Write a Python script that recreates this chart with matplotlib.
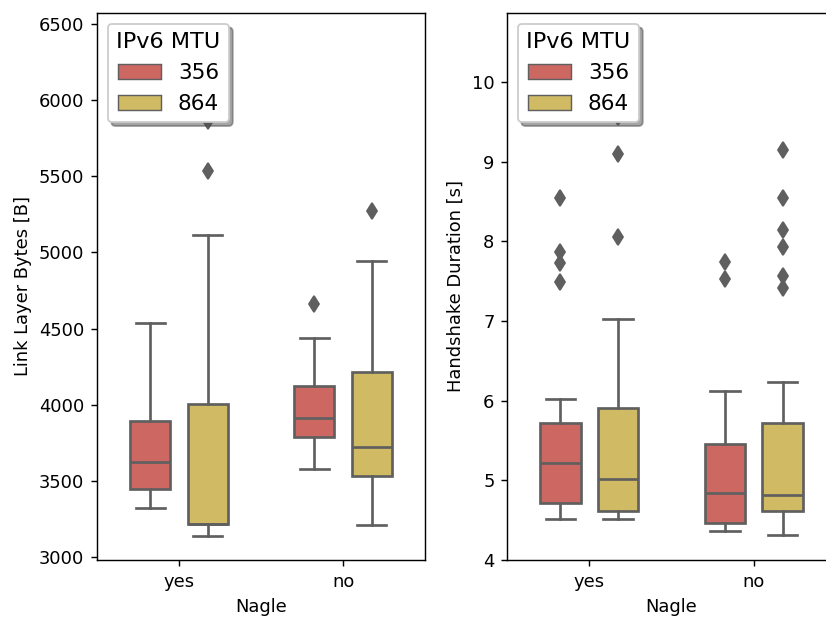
import matplotlib
matplotlib.use("Agg")
import matplotlib.pyplot as plt
from matplotlib.patches import Patch

# categories / hues
nagle = ["yes", "no"]
mtu = ["356", "864"]
colors = ["#cd6762", "#d0bb64"]
line_col = "#5f5f5f"

# Link layer bytes: per (nagle, mtu) -> whislo, q1, med, q3, whishi
bytes_whislo = [[3320, 3140], [3580, 3212]]
bytes_q1 = [[3447, 3215], [3790, 3534]]
bytes_med = [[3624, 3215], [3915, 3724]]
bytes_q3 = [[3895, 4003], [4125, 4217]]
bytes_whishi = [[4535, 5117], [4440, 4944]]
bytes_fliers = [[[], [5535, 5865]], [[4661], [5274]]]

# Handshake duration [s]
dur_whislo = [[4.51, 4.51], [4.37, 4.31]]
dur_q1 = [[4.71, 4.62], [4.47, 4.61]]
dur_med = [[5.22, 5.02], [4.84, 4.81]]
dur_q3 = [[5.72, 5.91], [5.46, 5.72]]
dur_whishi = [[6.02, 7.03], [6.12, 6.23]]
dur_fliers = [[[8.54, 7.86, 7.73, 7.49], [9.56, 9.10, 8.05]],
              [[7.74, 7.53], [9.15, 8.55, 8.14, 7.93, 7.56, 7.42]]]


def draw(ax, whislo, q1, med, q3, whishi, fliers, ylabel, ylim):
    offsets = [-0.175, 0.175]
    for i in range(len(nagle)):
        for j in range(len(mtu)):
            stats = [{
                "whislo": whislo[i][j], "q1": q1[i][j], "med": med[i][j],
                "q3": q3[i][j], "whishi": whishi[i][j], "fliers": fliers[i][j],
            }]
            ax.bxp(stats, positions=[i + offsets[j]], widths=0.245,
                   capwidths=0.18, patch_artist=True, manage_ticks=False,
                   boxprops=dict(facecolor=colors[j], edgecolor=line_col, linewidth=1.5),
                   medianprops=dict(color=line_col, linewidth=1.5),
                   whiskerprops=dict(color=line_col, linewidth=1.5),
                   capprops=dict(color=line_col, linewidth=1.5),
                   flierprops=dict(marker="d", markerfacecolor=line_col,
                                   markeredgecolor=line_col, markersize=6))
    ax.set_xlim(-0.5, 1.5)
    ax.set_xticks(range(len(nagle)))
    ax.set_xticklabels(nagle)
    ax.set_xlabel("Nagle")
    ax.set_ylabel(ylabel)
    ax.set_ylim(*ylim)
    handles = [Patch(facecolor=colors[k], edgecolor=line_col, linewidth=0.8) for k in range(len(mtu))]
    ax.legend(handles, mtu, title="IPv6 MTU", loc="upper left", shadow=True,
              fontsize=12, title_fontsize=12.5)


fig = plt.figure(figsize=(826 / 129, 617 / 129), dpi=129)
ax1 = fig.add_axes([97 / 826, 57 / 617, 328 / 826, 547 / 617])
ax2 = fig.add_axes([507 / 826, 57 / 617, 329 / 826, 547 / 617])

draw(ax1, bytes_whislo, bytes_q1, bytes_med, bytes_q3, bytes_whishi, bytes_fliers,
     "Link Layer Bytes [B]", (2980, 6572))
ax1.set_yticks(range(3000, 6501, 500))
draw(ax2, dur_whislo, dur_q1, dur_med, dur_q3, dur_whishi, dur_fliers,
     "Handshake Duration [s]", (4.0, 10.866))
ax2.set_yticks(range(4, 11))

fig.savefig("out.png", dpi=129)
